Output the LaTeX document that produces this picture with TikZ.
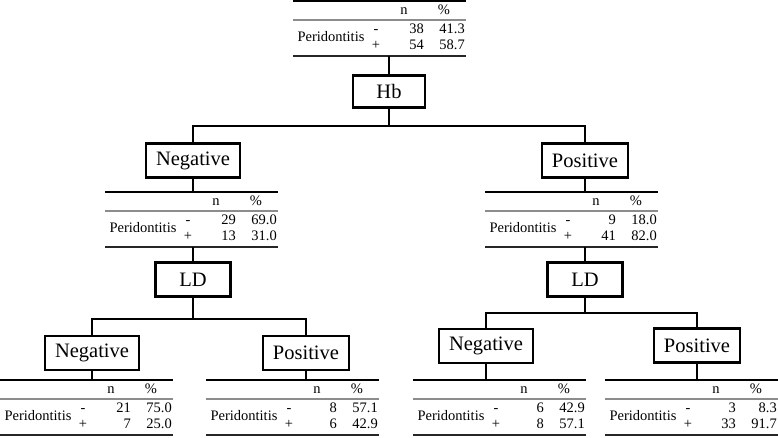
\documentclass[tikz,border=0pt]{standalone}
\usepackage{fontspec}
\setmainfont{Liberation Serif}
\tikzset{
  conn/.style={line width=1.8pt, line join=miter},
  pbox/.style={draw, line width=2.4pt, fill=white, inner xsep=10pt, inner ysep=0pt,
    minimum height=34pt, minimum width=72pt, font=\fontsize{20.5}{24}\selectfont},
  tx/.style={inner sep=0pt, font=\fontsize{14.5}{16}\selectfont},
  toprule/.style={line width=1.5pt, black},
  midrule/.style={line width=1.2pt, black!45},
  botrule/.style={line width=1.6pt, black!85},
}
\newcommand\ptab[8]{%
  \draw[toprule] (#2,#3) -- (#2+173,#3);
  \draw[midrule] (#2,#3+19) -- (#2+173,#3+19);
  \draw[botrule] (#2,#3+55) -- (#2+173,#3+55);
  \node[tx,anchor=mid] (#1-n) at (#2+111,#3+11.5) {n};
  \node[tx,anchor=mid] (#1-pc) at (#2+151,#3+11.5) {\%};
  \node[tx,anchor=mid] (#1-lab) at (#2+38,#3+38) {Peridontitis};
  \node[tx,anchor=mid] (#1-m) at (#2+83,#3+30) {-};
  \node[tx,anchor=mid] (#1-p) at (#2+83,#3+46) {+};
  \node[tx,anchor=mid east] (#1-n1) at (#2+131,#3+30) {#4};
  \node[tx,anchor=mid east] (#1-p1) at (#2+172,#3+30) {#5};
  \node[tx,anchor=mid east] (#1-n2) at (#2+131,#3+46) {#6};
  \node[tx,anchor=mid east] (#1-p2) at (#2+172,#3+46) {#7};
  \coordinate (#1-top) at (#8,#3);
  \coordinate (#1-bot) at (#8,#3+55);
}
\begin{document}
\begin{tikzpicture}[x=1pt,y=-1pt]
\useasboundingbox (0,0) rectangle (778,437);

% tables
\ptab{t0}{293}{1}{38}{41.3}{54}{58.7}{389}
\ptab{t1}{105}{192}{29}{69.0}{13}{31.0}{193}
\ptab{t2}{485}{192}{9}{18.0}{41}{82.0}{585}
\ptab{t3}{0}{380}{21}{75.0}{7}{25.0}{92}
\ptab{t4}{206}{380}{8}{57.1}{6}{42.9}{306}
\ptab{t5}{413}{380}{6}{42.9}{8}{57.1}{486}
\ptab{t6}{605}{380}{3}{8.3}{33}{91.7}{697}

% junctions
\coordinate (j0) at (389,126);
\coordinate (j1) at (193,319);
\coordinate (j2) at (585,313);

% boxes
\node[pbox, minimum height=32pt] (hb) at (389,91.5) {Hb};
\node[pbox] (negA) at (193,160.5) {Negative};
\node[pbox] (posA) at (585,160.5) {Positive};
\node[pbox, minimum width=75pt] (ldA) at (193,279.5) {LD};
\node[pbox, minimum width=75pt] (ldB) at (585,279.5) {LD};
\node[pbox] (negB) at (92,353) {Negative};
\node[pbox] (posB) at (306,353) {Positive};
\node[pbox] (negC) at (486,346) {Negative};
\node[pbox] (posC) at (697,345.5) {Positive};

% connectors
\draw[conn] (t0-bot) -- (hb.north);
\draw[conn] (hb.south) -- (j0);
\draw[conn] (negA.north) |- (j0) -| (posA.north);
\draw[conn] (negA.south) -- (t1-top);
\draw[conn] (posA.south) -- (t2-top);
\draw[conn] (t1-bot) -- (ldA.north);
\draw[conn] (t2-bot) -- (ldB.north);
\draw[conn] (ldA.south) -- (j1);
\draw[conn] (ldB.south) -- (j2);
\draw[conn] (negB.north) |- (j1) -| (posB.north);
\draw[conn] (negC.north) |- (j2) -| (posC.north);
\draw[conn] (negB.south) -- (t3-top);
\draw[conn] (posB.south) -- (t4-top);
\draw[conn] (negC.south) -- (t5-top);
\draw[conn] (posC.south) -- (t6-top);
\end{tikzpicture}
\end{document}
